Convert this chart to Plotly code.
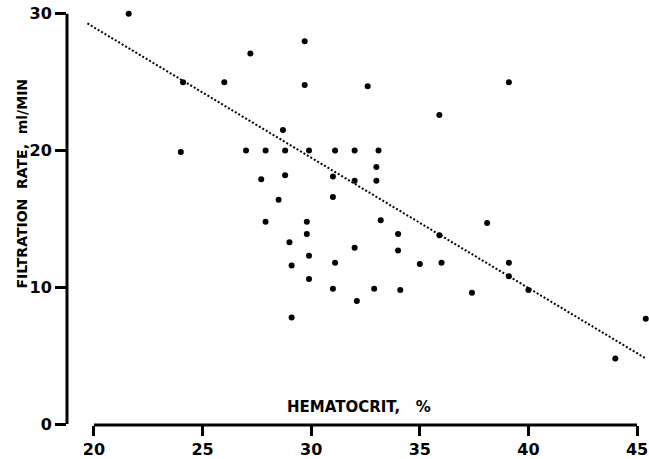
import plotly.graph_objects as go

# Hematocrit (%) and filtration rate (ml/min)
hematocrit = [21.6, 24.1, 24.0, 26.0, 27.2, 29.7, 29.7, 32.6, 39.1, 35.9,
              28.7, 27.0, 27.9, 28.8, 29.9, 31.1, 32.0, 33.1, 33.0, 27.7,
              28.8, 31.0, 32.0, 33.0, 28.5, 31.0, 27.9, 29.8, 33.2, 29.8,
              29.0, 32.0, 29.9, 29.1, 31.1, 29.9, 31.0, 32.9, 32.1, 29.1,
              34.0, 34.0, 34.1, 35.0, 36.0, 35.9, 38.1, 39.1, 39.1, 40.0,
              37.4, 44.0, 45.4]
filtration = [30.0, 25.0, 19.9, 25.0, 27.1, 28.0, 24.8, 24.7, 25.0, 22.6,
              21.5, 20.0, 20.0, 20.0, 20.0, 20.0, 20.0, 20.0, 18.8, 17.9,
              18.2, 18.1, 17.8, 17.8, 16.4, 16.6, 14.8, 14.8, 14.9, 13.9,
              13.3, 12.9, 12.3, 11.6, 11.8, 10.6, 9.9, 9.9, 9.0, 7.8,
              13.9, 12.7, 9.8, 11.7, 11.8, 13.8, 14.7, 11.8, 10.8, 9.8,
              9.6, 4.8, 7.7]

# Regression line end points
fit_x = [19.7, 45.4]
fit_y = [29.3, 4.8]

x_ticks = [20, 25, 30, 35, 40, 45]
y_ticks = [0, 10, 20, 30]

FONT = "DejaVu Sans, Liberation Sans, sans-serif"

fig = go.Figure()
fig.add_trace(go.Scatter(x=fit_x, y=fit_y, mode="lines",
                         line=dict(color="black", width=2, dash="2px,2px"),
                         hoverinfo="skip", cliponaxis=False))
fig.add_trace(go.Scatter(x=hematocrit, y=filtration, mode="markers",
                         marker=dict(color="black", size=6),
                         cliponaxis=False))

# detached axis lines
fig.add_shape(type="line", xref="x", yref="paper", x0=x_ticks[0], x1=x_ticks[-1],
              y0=0, y1=0, line=dict(color="black", width=3))
fig.add_shape(type="line", xref="paper", yref="y", x0=0, x1=0,
              y0=y_ticks[0], y1=y_ticks[-1], line=dict(color="black", width=3))

fig.add_annotation(text="<b>HEMATOCRIT,   %</b>", x=32.2, y=1.25, xref="x", yref="y",
                   xanchor="center", yanchor="middle",
                   showarrow=False, font=dict(family=FONT, size=15, color="black"))
fig.add_annotation(text="<b>FILTRATION  RATE,  ml/MIN</b>", x=-0.077, y=17.6,
                   xref="paper", yref="y", textangle=-90, showarrow=False,
                   xanchor="center", yanchor="middle",
                   font=dict(family=FONT, size=14, color="black"))

fig.update_layout(
    width=649, height=459,
    margin=dict(l=67, r=0, t=4, b=34),
    plot_bgcolor="white", paper_bgcolor="white",
    showlegend=False,
    font=dict(family=FONT, color="black"),
    xaxis=dict(range=[18.76, 45.55], tickvals=x_ticks,
               ticktext=[f"<b>{v}</b>" for v in x_ticks],
               showgrid=False, zeroline=False, showline=False,
               ticks="outside", ticklen=10, tickwidth=3, tickcolor="black",
               tickfont=dict(family=FONT, size=16, color="black")),
    yaxis=dict(range=[-0.07, 30.72], tickvals=y_ticks,
               ticktext=[f"<b>{v}</b>" for v in y_ticks],
               showgrid=False, zeroline=False, showline=False,
               ticks="outside", ticklen=11, tickwidth=3, tickcolor="black",
               tickfont=dict(family=FONT, size=16, color="black")),
)

fig.write_html("out.html")
